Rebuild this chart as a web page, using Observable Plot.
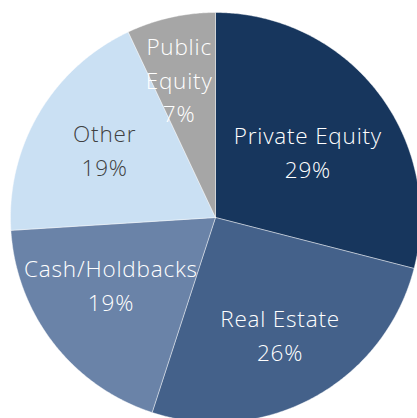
<!DOCTYPE html>
<html>
<head>
<meta charset="utf-8">
<script src="https://cdn.jsdelivr.net/npm/d3@7"></script>
<script src="https://cdn.jsdelivr.net/npm/@observablehq/plot@0.6"></script>
<style>
  html, body { margin: 0; padding: 0; background: #fff; overflow: hidden; }
  svg { overflow: hidden; display: block; }
</style>
</head>
<body>
<div id="chart"></div>
<script>
// Data
const categories = ["Private Equity", "Real Estate", "Cash/Holdbacks", "Other", "Public Equity"];
const labelText  = ["Private Equity", "Real Estate", "Cash/Holdbacks", "Other", "Public\nEquity"];
const shares     = [29, 26, 19, 19, 7];
const sliceColors = ["#17365d", "#44618a", "#6a83a8", "#cae0f3", "#a6a6a6"];
const textColors  = ["#ffffff", "#ffffff", "#ffffff", "#404040", "#ffffff"];

const W = 417, H = 418;
const cx = 215, cy = 217, R = 205;   // pie layout in pixels
// label placement (fraction of radius, angle nudge in degrees) per slice
const labelLayout = {
  "Private Equity": {r: 0.55, da: 2.8},
  "Real Estate":    {r: 0.66, da: 0.3},
  "Cash/Holdbacks": {r: 0.61, da: 4.5},
  "Other":          {r: 0.63, da: 0.3},
  "Public Equity":  {r: 0.69, da: -2.3}
};

const rows = categories.map((c, i) => ({name: c, label: labelText[i], share: shares[i], textColor: textColors[i]}));
const arcs = d3.pie().sort(null).value(d => d.share)(rows);

// polygon outline points for each slice (unit circle coordinates)
const pts = [];
for (const a of arcs) {
  const n = a.data.name;
  pts.push({name: n, x: 0, y: 0});
  const steps = Math.max(2, Math.ceil((a.endAngle - a.startAngle) / (Math.PI / 360)));
  for (let k = 0; k <= steps; k++) {
    const t = a.startAngle + (a.endAngle - a.startAngle) * k / steps;
    pts.push({name: n, x: Math.sin(t), y: Math.cos(t)});
  }
  pts.push({name: n, x: 0, y: 0});
}

const labels = arcs.map(a => {
  const L = labelLayout[a.data.name];
  const m = (a.startAngle + a.endAngle) / 2 + L.da * Math.PI / 180;
  return {
    x: L.r * Math.sin(m),
    y: L.r * Math.cos(m),
    text: `${a.data.label}\n${a.data.share}%`,
    color: a.data.textColor
  };
});

const chart = Plot.plot({
  width: W,
  height: H,
  margin: 0,
  x: {domain: [-cx / R, (W - cx) / R], axis: null},
  y: {domain: [-(H - cy) / R, cy / R], axis: null},
  color: {domain: categories, range: sliceColors},
  style: {fontFamily: "'Open Sans', Lato, sans-serif", background: "#fff", letterSpacing: "0.8px"},
  marks: [
    Plot.line(pts, {x: "x", y: "y", z: "name", fill: "name", stroke: "#ffffff", strokeWidth: 0.7, strokeOpacity: 0.6, curve: "linear"}),
    Plot.text(labels, {x: "x", y: "y", dy: -3, text: "text", fill: d => d.color, fontSize: 22.5, lineHeight: 1.5, fontWeight: 300})
  ]
});
document.getElementById("chart").appendChild(chart);
</script>
</body>
</html>
